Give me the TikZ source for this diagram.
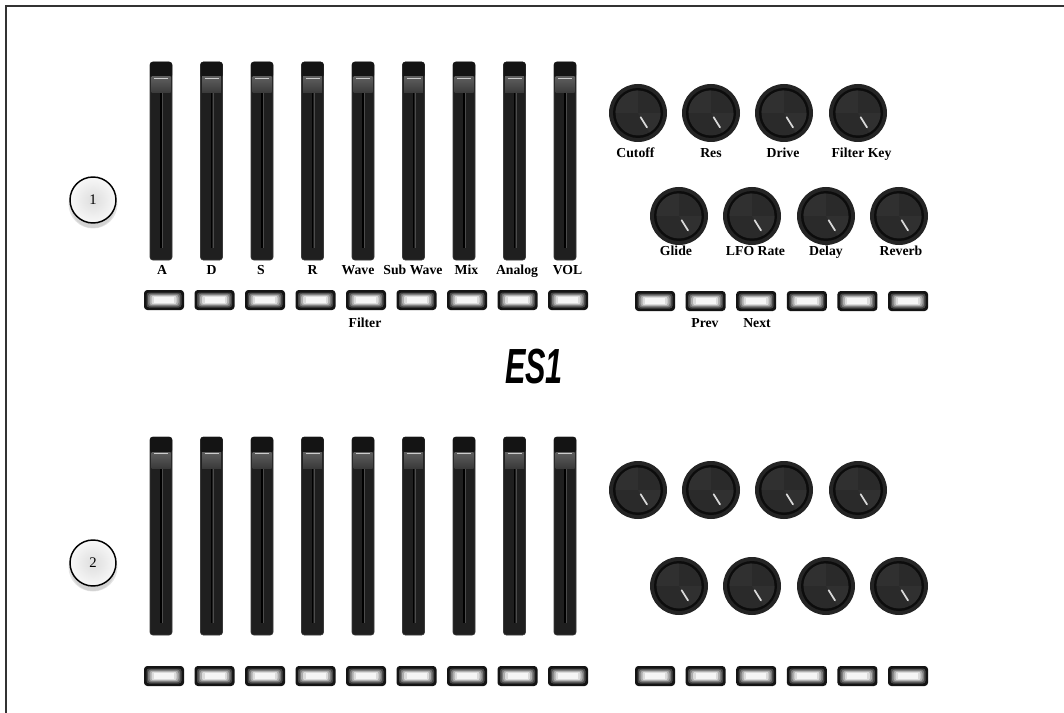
\documentclass[tikz,border=0pt]{standalone}
\usepackage{fontspec}
\setmainfont{Liberation Serif}
\newfontfamily\esfont{Liberation Sans}
\definecolor{faderbody}{HTML}{1F1F1F}
\definecolor{faderedge}{HTML}{3A3A3A}
\definecolor{captop}{HTML}{141414}
\definecolor{capup}{HTML}{5E5E5E}
\definecolor{capdown}{HTML}{3A3A3A}
\definecolor{knobouter}{HTML}{242424}
\definecolor{knobring}{HTML}{0C0C0C}
\definecolor{knobface}{HTML}{2A2A2A}
\definecolor{knobwedge}{HTML}{303030}
\definecolor{framecol}{HTML}{333333}
\tikzset{
  lbl/.style={font=\bfseries\fontsize{10.3}{12}\selectfont, inner sep=0pt, anchor=base},
  marker/.style={circle, draw=black, line width=1.1pt, minimum size=34.5pt, inner sep=0pt,
    shading=radial, inner color=black!13, outer color=black!3,
    font=\fontsize{11}{13}\selectfont},
  pics/fader/.style={code={
    \fill[faderbody, rounded corners=2pt] (-11,0) rectangle (11,198);
    \draw[faderedge, line width=0.4pt, rounded corners=2pt] (-11,0) rectangle (11,198);
    \draw[black, line width=0.9pt] (0,31) -- (0,186);
    \draw[black!70, line width=0.3pt] (1.2,31) -- (1.2,186);
    \fill[captop, rounded corners=2pt] (-11,0) rectangle (11,16);
    \shade[top color=capup, bottom color=capdown] (-9.5,15) rectangle (9.5,31);
    \draw[black!20, line width=1.3pt] (-7,16.5) -- (7,16.5);
  }},
  pics/btn/.style={code={
    \fill[black!92, rounded corners=2.5pt] (-20,-10) rectangle (20,10);
    \fill[black!72, rounded corners=2pt] (-17.5,-7.5) rectangle (17.5,7.5);
    \fill[black!52, rounded corners=2pt] (-16,-6.3) rectangle (16,6.3);
    \fill[black!32, rounded corners=2pt] (-14.5,-5.2) rectangle (14.5,5.2);
    \fill[black!14, rounded corners=1.5pt] (-12.5,-4.2) rectangle (12.5,4.2);
    \fill[black!4] (-10,-3.2) rectangle (10,3.2);
  }},
  pics/knob/.style={code={
    \fill[knobouter] (0,0) circle (29);
    \fill[knobring] (0,0) circle (25);
    \fill[knobface] (0,0) circle (22.5);
    \fill[knobwedge] (0,0) -- (180:22.5) arc (180:270:22.5) -- cycle;
    \fill[knobwedge] (0,0) -- (0:22.5) arc (0:60:22.5) -- cycle;
    \draw[white!85!black, line width=1.3pt, line cap=round] (58:5) -- (58:17);
  }}
}
\begin{document}
\begin{tikzpicture}[x=0.75pt, y=-0.75pt]
\useasboundingbox (0,0) rectangle (1064,713);
\fill[white] (0,0) rectangle (1064,713);
% frame
\coordinate (fbl) at (6,713);
\coordinate (ftl) at (6,6);
\coordinate (ftr) at (1064,6);
\draw[framecol, line width=1.1pt] (fbl) -- (ftl) -- (ftr);

% markers
\fill[black, opacity=0.10] (93,204) circle (24.5);
\fill[black, opacity=0.08] (93,206) circle (22);
\node[marker] (m1) at (93,200) {1};
\fill[black, opacity=0.10] (93,567) circle (24.5);
\fill[black, opacity=0.08] (93,569) circle (22);
\node[marker] (m2) at (93,563) {2};

% faders and buttons, both rows
\foreach \i in {0,...,8} {
  \pic (ftop\i) at ({161+50.5*\i},62) {fader};
  \pic (fbot\i) at ({161+50.5*\i},437) {fader};
  \pic (btop\i) at ({164+50.5*\i},300) {btn};
  \pic (bbot\i) at ({164+50.5*\i},676) {btn};
}
\foreach \i in {0,...,5} {
  \pic (rtop\i) at ({655+50.6*\i},301) {btn};
  \pic (rbot\i) at ({655+50.6*\i},676) {btn};
}
% knobs
\foreach \x [count=\k] in {638,711,784,858} {
  \pic (ka\k) at (\x,113) {knob};
  \pic (kc\k) at (\x,490) {knob};
}
\foreach \x [count=\k] in {679,752,826,899} {
  \pic (kb\k) at (\x,216) {knob};
  \pic (kd\k) at (\x,586) {knob};
}

% fader labels
\node[lbl] (lA) at (162,274) {A};
\node[lbl] (lD) at (211.5,274) {D};
\node[lbl] (lS) at (261,274) {S};
\node[lbl] (lR) at (312.5,274) {R};
\node[lbl] (lWave) at (358,274) {Wave};
\node[lbl] (lSub) at (413,274) {Sub Wave};
\node[lbl] (lMix) at (466.5,274) {Mix};
\node[lbl] (lAnalog) at (517,274) {Analog};
\node[lbl] (lVOL) at (567.5,274) {VOL};
% knob labels
\node[lbl] (lCut) at (635.5,158) {Cutoff};
\node[lbl] (lRes) at (711,158) {Res};
\node[lbl] (lDrive) at (783,158) {Drive};
\node[lbl] (lFK) at (861.5,158) {Filter Key};
\node[lbl] (lGlide) at (676,256) {Glide};
\node[lbl] (lLFO) at (755.5,256) {LFO Rate};
\node[lbl] (lDelay) at (826,256) {Delay};
\node[lbl] (lRev) at (901,256) {Reverb};
% button labels
\node[lbl] (lFilter) at (365,327) {Filter};
\node[lbl] (lPrev) at (705,327) {Prev};
\node[lbl] (lNext) at (757,327) {Next};

% title
\node[inner sep=0pt, xscale=0.62, font=\esfont\bfseries\itshape\fontsize{37}{40}\selectfont] (title) at (534,367) {ES1};
\end{tikzpicture}
\end{document}
